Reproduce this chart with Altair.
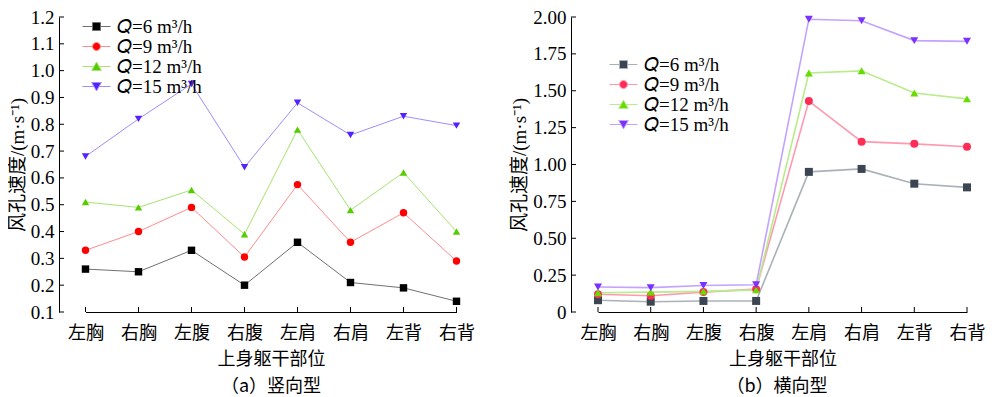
import altair as alt
import pandas as pd

categories = ["左胸", "右胸", "左腹", "右腹", "左肩", "右肩", "左背", "右背"]
series_names = ["𝑄=6 m³/h", "𝑄=9 m³/h", "𝑄=12 m³/h", "𝑄=15 m³/h"]

# (a) 竖向型
vert_q6 = [0.26, 0.25, 0.33, 0.20, 0.36, 0.21, 0.19, 0.14]
vert_q9 = [0.33, 0.40, 0.49, 0.305, 0.575, 0.36, 0.47, 0.29]
vert_q12 = [0.51, 0.49, 0.555, 0.39, 0.78, 0.48, 0.62, 0.40]
vert_q15 = [0.68, 0.82, 0.95, 0.64, 0.88, 0.76, 0.83, 0.795]

# (b) 横向型
horiz_q6 = [0.08, 0.07, 0.075, 0.075, 0.95, 0.97, 0.87, 0.845]
horiz_q9 = [0.12, 0.11, 0.135, 0.155, 1.43, 1.155, 1.14, 1.12]
horiz_q12 = [0.13, 0.135, 0.14, 0.15, 1.62, 1.635, 1.485, 1.445]
horiz_q15 = [0.17, 0.165, 0.18, 0.185, 1.985, 1.975, 1.84, 1.835]

vert_ticks = [0.1, 0.2, 0.3, 0.4, 0.5, 0.6, 0.7, 0.8, 0.9, 1.0, 1.1, 1.2]
horiz_ticks = [0, 0.25, 0.5, 0.75, 1.0, 1.25, 1.5, 1.75, 2.0]

vert_marker_colors = ["#000000", "#ff0000", "#55cc00", "#5522ff"]
vert_line_colors = ["#707070", "#ff8c8c", "#a6e46e", "#a08cff"]
horiz_marker_colors = ["#3b4652", "#ff2d55", "#66dd00", "#7a30ff"]
horiz_line_colors = ["#aab1b8", "#ff99b0", "#b9ec8a", "#c2a3ff"]
shapes = ["square", "circle", "triangle-up", "triangle-down"]

legend_paths = [
    "M-3.5,0H-1M1,0H3.5M-1,-1H1V1H-1Z",
    "M-3.5,0H-1M1,0H3.5M-1,0A1,1,0,1,0,1,0A1,1,0,1,0,-1,0Z",
    "M-3.5,0H-0.6M0.6,0H3.5M0,-1.1L1.2,1L-1.2,1Z",
    "M-3.5,0H-0.6M0.6,0H3.5M0,1.1L1.2,-1L-1.2,-1Z",
]

CJK = "Noto Sans CJK SC"
SERIF = "Liberation Serif"


def long_df(series_vals):
    rows = []
    for s, vals in zip(series_names, series_vals):
        for i, (c, v) in enumerate(zip(categories, vals)):
            rows.append({"cat": c, "series": s, "value": v, "idx": i})
    return pd.DataFrame(rows)


def panel(series_vals, ticks, domain, marker_colors, line_colors, width, height,
          xrange, legend_xy, caption, label_expr, line_width, marker_size):
    df = long_df(series_vals)
    xscale = alt.Scale(type="point", domain=categories, range=xrange, padding=0)
    yscale = alt.Scale(domain=domain, nice=False, zero=False)
    fill_scale = alt.Scale(domain=series_names, range=marker_colors)
    stroke_scale = alt.Scale(domain=series_names, range=line_colors)
    shape_scale = alt.Scale(domain=series_names, range=legend_paths)

    x_axis = alt.Axis(title="上身躯干部位", labelAngle=0, labelFont=CJK,
                      labelFontSize=18, labelColor="black", labelPadding=12,
                      ticks=False, domainColor="black", domainWidth=1,
                      titleFont=CJK, titleFontSize=18, titleFontWeight="normal",
                      titleColor="black", titlePadding=8, grid=False)
    y_axis = alt.Axis(title="风孔速度/(m·s⁻¹)", values=ticks, labelExpr=label_expr,
                      labelFont=SERIF, labelFontSize=19, labelColor="black",
                      labelPadding=5, labelOverlap=False, ticks=False,
                      domainColor="black", domainWidth=1,
                      titleFont=SERIF + ", " + CJK,
                      titleFontSize=19, titleFontWeight="normal",
                      titleColor="black", titlePadding=3, grid=False)
    X = alt.X("cat:N", scale=xscale, sort=categories, axis=x_axis)

    legend = alt.Legend(
        title=None, orient="none", legendX=legend_xy[0], legendY=legend_xy[1],
        labelFont=SERIF, labelFontSize=19, labelColor="black", labelOffset=11,
        symbolSize=64, rowPadding=-0.5, padding=0, symbolStrokeWidth=1,
        symbolOpacity=1,
    )

    base = alt.Chart(df)
    lines = base.mark_line(strokeWidth=line_width).encode(
        x=X,
        y=alt.Y("value:Q", scale=yscale, axis=y_axis),
        stroke=alt.Stroke("series:N", scale=stroke_scale, legend=legend),
        detail="series:N",
        order="idx:Q",
    )

    point_layers = []
    for s, shp in zip(series_names, shapes):
        point_layers.append(
            base.transform_filter(alt.datum.series == s)
            .mark_point(filled=True, size=marker_size, opacity=1, shape=shp)
            .encode(
                x=X,
                y=alt.Y("value:Q", scale=yscale, axis=y_axis),
                fill=alt.Fill("series:N", scale=fill_scale, legend=legend),
            )
        )

    legend_layer = base.mark_point(filled=True, size=marker_size, opacity=0).encode(
        x=X,
        y=alt.Y("value:Q", scale=yscale, axis=y_axis),
        fill=alt.Fill("series:N", scale=fill_scale, legend=legend),
        stroke=alt.Stroke("series:N", scale=stroke_scale, legend=legend),
        shape=alt.Shape("series:N", scale=shape_scale, legend=legend),
    )

    xtick_df = pd.DataFrame({"cat": categories})
    xticks = alt.Chart(xtick_df).mark_rule(color="black", strokeWidth=1).encode(
        x=X,
        y=alt.value(height),
        y2=alt.value(height - 5),
    )
    ytick_df = pd.DataFrame({"value": ticks})
    yticks = alt.Chart(ytick_df).mark_rule(color="black", strokeWidth=1).encode(
        y=alt.Y("value:Q", scale=yscale, axis=y_axis),
        x=alt.value(0),
        x2=alt.value(5),
    )

    return alt.layer(lines, *point_layers, legend_layer, xticks, yticks).properties(
        width=width, height=height,
        title=alt.TitleParams(caption, orient="bottom", anchor="middle", font=CJK,
                              fontSize=18, fontWeight="normal", color="black", offset=10),
    )


left = panel(
    [vert_q6, vert_q9, vert_q12, vert_q15], vert_ticks, [0.1, 1.2],
    vert_marker_colors, vert_line_colors, 424, 295, [26.5, 397.5], (28, 0),
    "（a）竖向型", "format(datum.value, '.1f')", 1, 55,
)
right = panel(
    [horiz_q6, horiz_q9, horiz_q12, horiz_q15], horiz_ticks, [0, 2.0],
    horiz_marker_colors, horiz_line_colors, 412, 295, [27, 396], (43, 38),
    "（b）横向型", "datum.value == 0 ? '0' : format(datum.value, '.2f')", 1.6, 64,
)

chart = alt.hconcat(left, right, spacing=27).properties(
    padding={"left": 0, "top": 0, "right": 0, "bottom": 0},
    background="white",
).resolve_scale(fill="independent", stroke="independent", shape="independent",
                x="independent", y="independent").configure_view(
    stroke=None
).configure_axis(labelOverlap=False)

chart.save("out.html", embed_options={"renderer": "svg", "actions": False})
